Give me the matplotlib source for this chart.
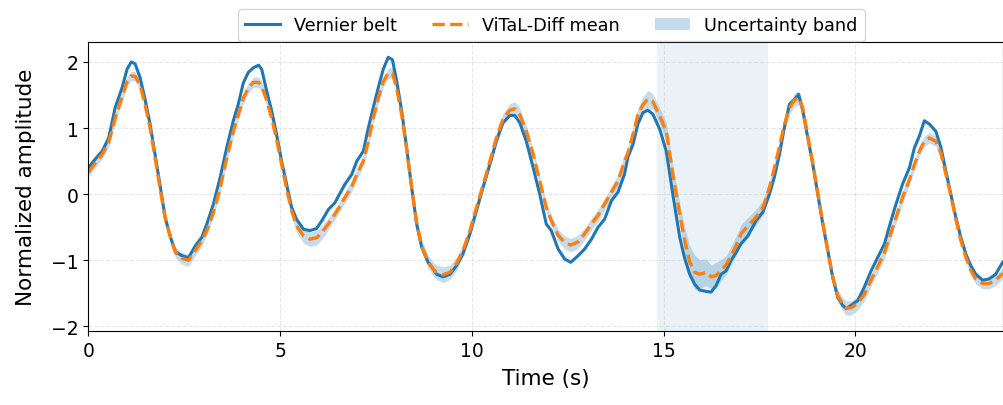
import numpy as np
import matplotlib.pyplot as plt

# time samples (s)
t = [0.00, 0.18, 0.36, 0.53, 0.70, 0.88, 1.01, 1.12, 1.22, 1.35, 1.48, 1.61, 1.74, 1.88,
     2.00, 2.14, 2.27, 2.44, 2.61, 2.79, 2.96, 3.09, 3.26, 3.44, 3.61, 3.78, 3.91, 4.04,
     4.17, 4.30, 4.44, 4.52, 4.65, 4.78, 4.91, 5.04, 5.17, 5.30, 5.43, 5.61, 5.78, 5.95,
     6.09, 6.26, 6.43, 6.52, 6.69, 6.87, 7.00, 7.17, 7.30, 7.43, 7.56, 7.69, 7.82, 7.93,
     8.04, 8.17, 8.30, 8.43, 8.56, 8.69, 8.86, 8.99, 9.08, 9.25, 9.43, 9.60, 9.77, 9.95,
     10.12, 10.29, 10.47, 10.64, 10.81, 10.99, 11.12, 11.25, 11.42, 11.60, 11.77, 11.94,
     12.07, 12.25, 12.42, 12.58, 12.77, 12.94, 13.12, 13.29, 13.46, 13.64, 13.81, 13.98,
     14.07, 14.20, 14.33, 14.46, 14.59, 14.72, 14.90, 15.07, 15.24, 15.42, 15.55, 15.68,
     15.81, 15.94, 16.11, 16.24, 16.37, 16.50, 16.63, 16.76, 16.89, 17.02, 17.20, 17.41,
     17.59, 17.76, 17.89, 18.02, 18.15, 18.28, 18.41, 18.52, 18.63, 18.76, 18.89, 19.02,
     19.15, 19.28, 19.41, 19.54, 19.67, 19.76, 19.89, 20.06, 20.23, 20.41, 20.58, 20.76,
     20.89, 21.06, 21.23, 21.41, 21.54, 21.67, 21.80, 21.93, 22.10, 22.23, 22.36, 22.49,
     22.62, 22.75, 22.88, 23.01, 23.14, 23.32, 23.49, 23.66, 23.84]

belt = [0.40, 0.53, 0.65, 0.85, 1.31, 1.61, 1.89, 2.00, 1.97, 1.76, 1.43, 1.06, 0.60, 0.10,
        -0.35, -0.65, -0.87, -0.93, -0.96, -0.78, -0.65, -0.45, -0.15, 0.26, 0.71, 1.11, 1.36, 1.68,
        1.84, 1.91, 1.95, 1.89, 1.56, 1.26, 0.90, 0.50, 0.15, -0.20, -0.38, -0.53, -0.55, -0.52,
        -0.40, -0.23, -0.13, -0.03, 0.15, 0.30, 0.50, 0.65, 1.00, 1.31, 1.61, 1.89, 2.07, 2.03,
        1.71, 1.26, 0.70, 0.10, -0.45, -0.80, -1.03, -1.13, -1.21, -1.25, -1.21, -1.08, -0.90, -0.60,
        -0.25, 0.10, 0.45, 0.80, 1.08, 1.19, 1.19, 1.08, 0.80, 0.40, 0.00, -0.45,
        -0.55, -0.83, -0.98, -1.03, -0.93, -0.83, -0.68, -0.50, -0.38, -0.10, 0.03, 0.30,
        0.56, 0.75, 1.06, 1.23, 1.27, 1.21, 0.98, 0.65, 0.00, -0.65, -0.97, -1.21,
        -1.36, -1.45, -1.47, -1.48, -1.38, -1.21, -1.16, -1.00, -0.88, -0.75, -0.63, -0.40,
        -0.27, 0.00, 0.26, 0.60, 1.01, 1.36, 1.43, 1.51, 1.26, 0.85, 0.45, 0.00,
        -0.45, -0.85, -1.26, -1.56, -1.68, -1.73, -1.68, -1.61, -1.41, -1.16, -0.96, -0.75,
        -0.48, -0.15, 0.15, 0.40, 0.70, 0.88, 1.11, 1.06, 0.95, 0.71, 0.35, 0.00,
        -0.35, -0.65, -0.90, -1.08, -1.21, -1.30, -1.28, -1.21, -1.03]

mean = [0.33, 0.47, 0.60, 0.78, 1.15, 1.47, 1.70, 1.79, 1.78, 1.65, 1.35, 1.00, 0.55, 0.05,
        -0.35, -0.65, -0.88, -0.97, -1.00, -0.85, -0.70, -0.55, -0.28, 0.10, 0.55, 0.95, 1.20, 1.45,
        1.60, 1.69, 1.69, 1.63, 1.42, 1.15, 0.82, 0.45, 0.08, -0.25, -0.48, -0.63, -0.68, -0.66,
        -0.58, -0.45, -0.30, -0.22, -0.05, 0.12, 0.30, 0.50, 0.80, 1.15, 1.45, 1.70, 1.83, 1.83,
        1.60, 1.20, 0.68, 0.10, -0.42, -0.78, -1.02, -1.13, -1.18, -1.22, -1.18, -1.05, -0.85, -0.55,
        -0.20, 0.13, 0.50, 0.85, 1.13, 1.27, 1.29, 1.20, 0.95, 0.60, 0.20, -0.20,
        -0.40, -0.62, -0.73, -0.77, -0.72, -0.60, -0.45, -0.32, -0.15, 0.03, 0.20, 0.50,
        0.62, 0.90, 1.20, 1.35, 1.44, 1.40, 1.18, 0.95, 0.30, -0.30, -0.70, -1.02,
        -1.18, -1.21, -1.18, -1.25, -1.23, -1.15, -1.07, -0.93, -0.78, -0.60, -0.48, -0.35,
        -0.20, 0.10, 0.40, 0.72, 1.05, 1.30, 1.42, 1.46, 1.30, 0.88, 0.47, 0.02,
        -0.43, -0.85, -1.25, -1.53, -1.66, -1.72, -1.72, -1.65, -1.52, -1.30, -1.10, -0.88,
        -0.65, -0.35, -0.05, 0.22, 0.45, 0.65, 0.80, 0.85, 0.80, 0.62, 0.30, -0.02,
        -0.38, -0.70, -0.95, -1.15, -1.28, -1.35, -1.35, -1.30, -1.20]

# half-width of the uncertainty band
spread = [0.07, 0.07, 0.07, 0.07, 0.07, 0.07, 0.07, 0.07, 0.07, 0.07, 0.07, 0.07, 0.07, 0.07,
          0.07, 0.07, 0.08, 0.09, 0.09, 0.08, 0.08, 0.07, 0.07, 0.07, 0.07, 0.07, 0.08, 0.08,
          0.08, 0.08, 0.08, 0.08, 0.08, 0.08, 0.08, 0.08, 0.08, 0.09, 0.10, 0.11, 0.11, 0.11,
          0.10, 0.09, 0.08, 0.08, 0.08, 0.08, 0.08, 0.08, 0.08, 0.08, 0.08, 0.08, 0.08, 0.08,
          0.08, 0.08, 0.08, 0.08, 0.08, 0.09, 0.10, 0.10, 0.11, 0.12, 0.11, 0.10, 0.09, 0.08,
          0.08, 0.08, 0.08, 0.08, 0.09, 0.10, 0.11, 0.10, 0.09, 0.08, 0.08, 0.08,
          0.09, 0.09, 0.10, 0.10, 0.10, 0.09, 0.09, 0.09, 0.09, 0.09, 0.09, 0.10,
          0.10, 0.11, 0.11, 0.12, 0.13, 0.12, 0.12, 0.13, 0.14, 0.16, 0.20, 0.24,
          0.26, 0.22, 0.20, 0.18, 0.20, 0.16, 0.14, 0.14, 0.15, 0.14, 0.13, 0.12,
          0.11, 0.10, 0.10, 0.09, 0.09, 0.09, 0.10, 0.10, 0.09, 0.08, 0.08, 0.08,
          0.08, 0.08, 0.08, 0.09, 0.10, 0.11, 0.11, 0.10, 0.10, 0.09, 0.09, 0.09,
          0.09, 0.09, 0.09, 0.08, 0.08, 0.08, 0.08, 0.08, 0.08, 0.08, 0.08, 0.08,
          0.08, 0.08, 0.08, 0.08, 0.08, 0.08, 0.08, 0.08, 0.08]

# highlighted window (s)
win_start, win_end = 14.82, 17.71

t = np.array(t)
mean = np.array(mean)
spread = np.array(spread)

fig, ax = plt.subplots(figsize=(10.04, 4.06), dpi=100)
fig.subplots_adjust(left=0.088, right=0.999, top=0.894, bottom=0.182)

ax.axvspan(win_start, win_end, color='C0', alpha=0.09, lw=0)
ax.fill_between(t, mean - spread, mean + spread, color='C0', alpha=0.25, lw=0,
                label='Uncertainty band')
ax.plot(t, belt, color='C0', lw=2.2, label='Vernier belt')
ax.plot(t, mean, color='C1', lw=2.4, ls='--', label='ViTaL-Diff mean')

ax.set_xlim(0, 23.85)
ax.set_ylim(-2.07, 2.3)
ax.set_xticks([0, 5, 10, 15, 20])
ax.set_yticks([-2, -1, 0, 1, 2])
ax.tick_params(labelsize=13.5)
ax.set_xlabel('Time (s)', fontsize=15.5, labelpad=6)
ax.set_ylabel('Normalized amplitude', fontsize=15.5, labelpad=11)
ax.grid(True, ls='--', alpha=0.3)

h, l = ax.get_legend_handles_labels()
order = [1, 2, 0]
fig.legend([h[i] for i in order], [l[i] for i in order], loc='upper center',
           bbox_to_anchor=(0.549, 0.997), ncol=3, fontsize=12.7, frameon=True)

plt.savefig('out.png', dpi=100)
